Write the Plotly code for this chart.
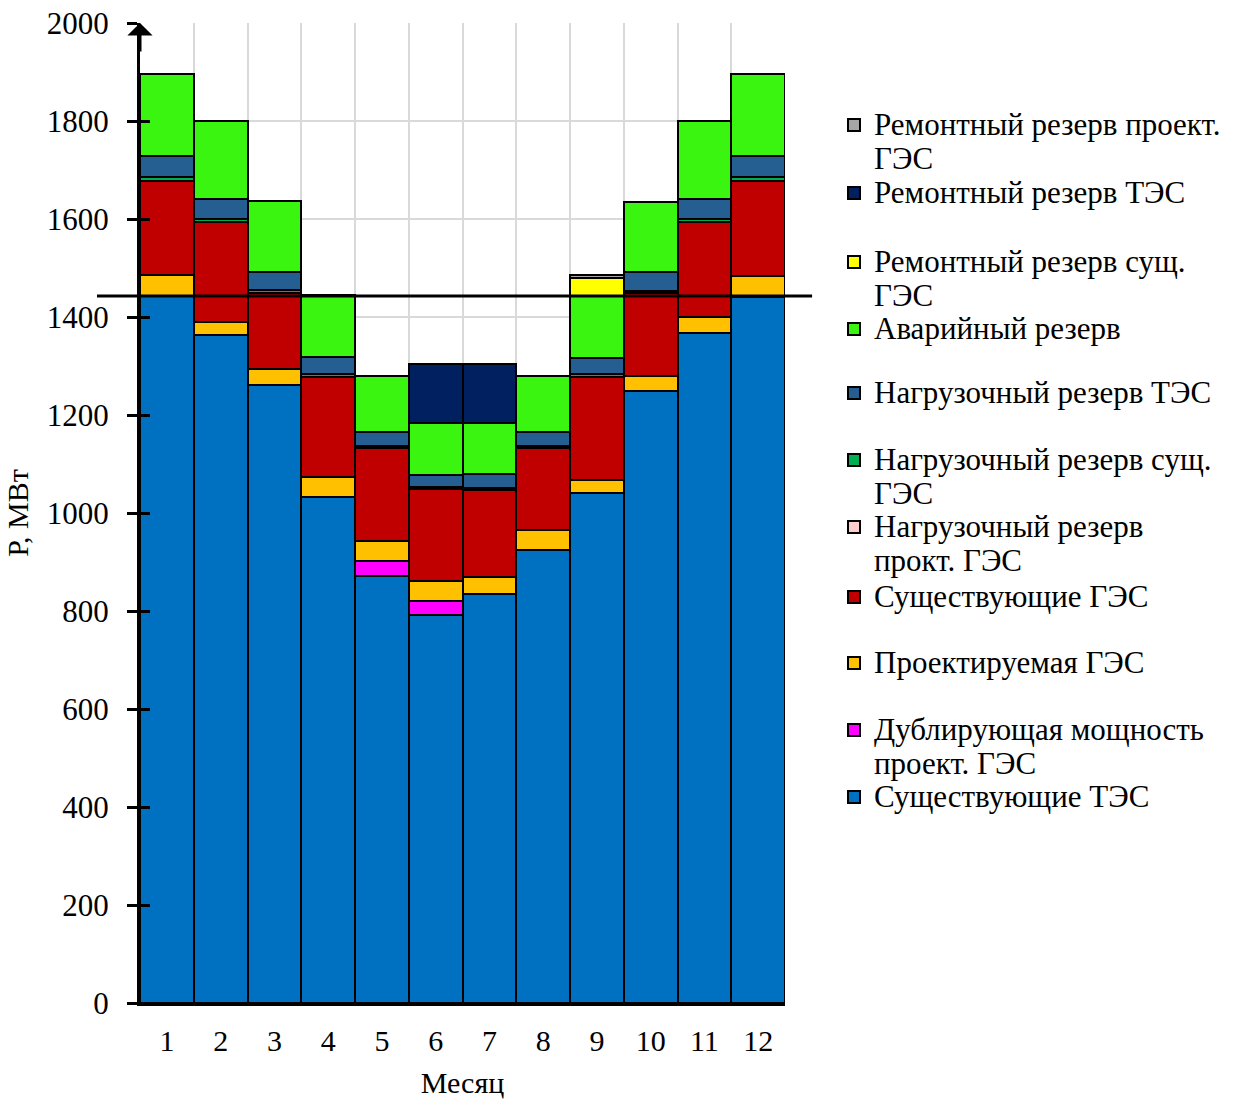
import plotly.graph_objects as go

# Months on the horizontal axis
months = ["1", "2", "3", "4", "5", "6", "7", "8", "9", "10", "11", "12"]

# Stacked components, MW (bottom of the stack first)
tes_existing = [1443, 1363, 1261, 1033, 871, 792, 835, 924, 1040, 1248, 1367, 1441]
dubl_proj_ges = [0, 0, 0, 0, 31, 28, 0, 0, 0, 0, 0, 0]
ges_projected = [43, 26, 32, 41, 41, 42, 35, 41, 27, 32, 32, 43]
ges_existing = [192, 204, 157, 204, 189, 187, 177, 168, 211, 168, 194, 194]
load_res_proj_ges = [0, 0, 0, 0, 0, 0, 0, 0, 0, 0, 0, 0]
load_res_exist_ges = [7, 6, 5, 6, 5, 5, 5, 4, 6, 5, 6, 7]
load_res_tes = [44, 42, 36, 34, 28, 24, 27, 29, 32, 38, 42, 44]
emergency_res = [167, 160, 145, 127, 115, 105, 104, 114, 127, 144, 159, 167]
repair_res_exist_ges = [0, 0, 0, 0, 0, 0, 0, 0, 36, 0, 0, 0]
repair_res_tes = [0, 0, 0, 0, 0, 121, 121, 0, 0, 0, 0, 0]
repair_res_proj_ges = [0, 0, 0, 0, 0, 0, 0, 0, 7, 0, 0, 0]

# Horizontal reference level, MW
level_line = 1443

y_ticks = [0, 200, 400, 600, 800, 1000, 1200, 1400, 1600, 1800, 2000]

FONT = "Liberation Serif, Times New Roman, serif"
W, H = 1248, 1103

series = [
    ("Существующие ТЭС", tes_existing, "#0070C0"),
    ("Дублирующая мощность<br>проект. ГЭС", dubl_proj_ges, "#FF00FF"),
    ("Проектируемая ГЭС", ges_projected, "#FFC000"),
    ("Существующие ГЭС", ges_existing, "#C00000"),
    ("Нагрузочный резерв<br>прокт. ГЭС", load_res_proj_ges, "#FFCCCC"),
    ("Нагрузочный резерв сущ.<br>ГЭС", load_res_exist_ges, "#00B050"),
    ("Нагрузочный резерв ТЭС", load_res_tes, "#255E91"),
    ("Аварийный резерв", emergency_res, "#3AF50F"),
    ("Ремонтный резерв сущ.<br>ГЭС", repair_res_exist_ges, "#FFFF00"),
    ("Ремонтный резерв ТЭС", repair_res_tes, "#002060"),
    ("Ремонтный резерв проект.<br>ГЭС", repair_res_proj_ges, "#A6A6A6"),
]

# Pixel row (symbol centre) of each legend entry, same order as series
legend_rows = [797, 730, 663, 597, 527, 460, 393, 329, 262, 193, 125]
legend_line_size = 26      # sets the line pitch of wrapped entries
legend_glyph_size = 31     # size the glyphs are drawn at
legend_left_px = 834


def legend_label(name):
    lines = name.split("<br>")
    return "<br>".join(f'<span style="font-size:{legend_glyph_size}px">{ln}</span>' for ln in lines)


fig = go.Figure()
layout_legends = {}
for i, (name, vals, color) in enumerate(series):
    key = "legend" if i == 0 else f"legend{i + 1}"
    fig.add_trace(go.Bar(
        x=months, y=vals, name=legend_label(name),
        marker=dict(color=color, line=dict(color="black", width=2)),
        legend=key,
    ))
    line_h = legend_line_size * 1.3
    top_px = legend_rows[i] - (5 + 0.5 * (line_h + 3))
    layout_legends[key] = dict(
        x=legend_left_px / W, xref="container", xanchor="left",
        y=1 - top_px / H, yref="container", yanchor="top",
        bgcolor="rgba(0,0,0,0)", borderwidth=0, valign="top",
        font=dict(family=FONT, size=legend_line_size, color="black"),
    )

# Overlay axis carrying the inner half of the cross tick marks
fig.add_trace(go.Scatter(x=[months[0]], y=[0], yaxis="y2", mode="markers",
                         marker=dict(opacity=0), showlegend=False, hoverinfo="skip"))

fig.add_shape(type="line", xref="paper", yref="y", x0=-0.0667, x1=1.042,
              y0=level_line, y1=level_line, line=dict(color="black", width=3), layer="above")

fig.add_annotation(xref="paper", yref="y", x=0, y=y_ticks[-1], ax=0, ay=30,
                   showarrow=True, arrowhead=1, arrowsize=1.4, arrowwidth=3,
                   arrowcolor="black", text="")

fig.update_layout(
    width=W, height=H,
    margin=dict(l=140, r=463, t=23, b=100, autoexpand=False),
    barmode="stack", bargap=0,
    paper_bgcolor="white", plot_bgcolor="white",
    font=dict(family=FONT, size=31, color="black"),
    xaxis=dict(
        type="category", tickson="boundaries", range=[-0.5, 11.5],
        showgrid=True, gridcolor="#D9D9D9", gridwidth=2, ticks="",
        showline=True, linecolor="black", linewidth=3,
        ticklabelstandoff=9,
        title=dict(text="Месяц", standoff=16, font=dict(family=FONT, size=30)),
        tickfont=dict(family=FONT, size=30),
    ),
    yaxis=dict(
        range=[0, 2000], tickvals=y_ticks, ticktext=[str(v) for v in y_ticks],
        showgrid=True, gridcolor="#D9D9D9", gridwidth=2, zeroline=False,
        showline=True, linecolor="black", linewidth=3,
        ticks="outside", ticklen=10, tickwidth=3, tickcolor="black",
        ticklabelstandoff=12,
        title=dict(text="Р, МВт", standoff=10, font=dict(family=FONT, size=30)),
        tickfont=dict(family=FONT, size=31),
    ),
    yaxis2=dict(
        overlaying="y", side="left", anchor="x", range=[0, 2000], tickvals=y_ticks,
        showticklabels=False, showgrid=False, zeroline=False, showline=False,
        ticks="inside", ticklen=10, tickwidth=3, tickcolor="black",
    ),
    **layout_legends,
)

fig.write_html("out.html")
